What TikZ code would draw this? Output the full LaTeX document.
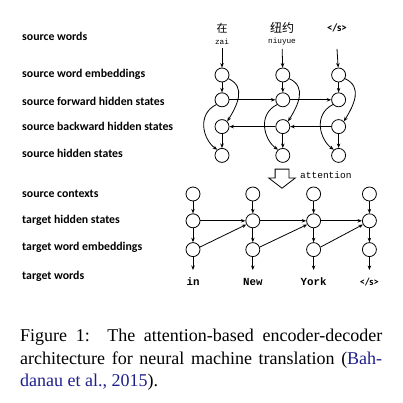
\documentclass[tikz,border=0pt]{standalone}
\usepackage{fontspec}
\setmainfont{Liberation Serif}
\newfontfamily\lblfont{Carlito}
\newfontfamily\wordfont{Liberation Mono}
\newfontfamily\cjkfont{Noto Sans CJK SC}
\usepackage{tikz}
\usetikzlibrary{arrows.meta, positioning, shapes.arrows}
\definecolor{citeblue}{RGB}{30,30,140}

\begin{document}
\begin{tikzpicture}[x=1pt, y=1pt,
    node distance=10pt and 46pt,
    unit/.style={circle, draw, line width=0.8pt, minimum size=14pt, inner sep=0pt},
    lbl/.style={anchor=west, inner sep=0pt, font=\lblfont\bfseries\fontsize{11.8}{13}\selectfont},
    tok/.style={inner sep=0pt, text height=8pt, text depth=0pt,
                font=\wordfont\bfseries\fontsize{10.8}{12}\selectfont},
    pin/.style={inner sep=1pt, font=\wordfont\fontsize{7.7}{9}\selectfont},
    captext/.style={anchor=base west, inner sep=0pt, font=\fontsize{18}{22}\selectfont},
    link/.style={line width=0.8pt},
    >={Stealth[length=4.5pt, width=3.5pt]}]

  \useasboundingbox (0,0) rectangle (402,-403);

  % row labels
  \node[lbl] (lsw)  at (22,-36)  {source words};
  \node[lbl] (lse)  at (22,-74)  {source word embeddings};
  \node[lbl] (lsf)  at (22,-101) {source forward hidden states};
  \node[lbl] (lsb)  at (22,-126) {source backward hidden states};
  \node[lbl] (lsh)  at (22,-153) {source hidden states};
  \node[lbl] (lsc)  at (22,-194) {source contexts};
  \node[lbl] (lth)  at (22,-220) {target hidden states};
  \node[lbl] (lte)  at (22,-247) {target word embeddings};
  \node[lbl] (ltw)  at (22,-276) {target words};

  % source words
  \node[font=\cjkfont\fontsize{11}{12}\selectfont, inner sep=0pt] (x1) at (222,-28) {在};
  \node[font=\cjkfont\fontsize{12}{13}\selectfont, inner sep=0pt] (x2) at (282,-28) {纽约};
  \node[font=\lblfont\bfseries\fontsize{11}{12}\selectfont, inner sep=0pt] (x3) at (337,-28) {</s>};
  \node[pin] (p1) at (222,-42) {zai};
  \node[pin] (p2) at (282,-42) {niuyue};
  \coordinate (p3) at (337,-49);

  % encoder
  \node[unit] (e1) at (222,-75) {};
  \node[unit, below=10pt of e1] (f1) {};
  \node[unit, below=12pt of f1] (b1) {};
  \node[unit, below=14pt of b1] (h1) {};
  \node[unit, right=46pt of e1] (e2) {};
  \node[unit, below=10pt of e2] (f2) {};
  \node[unit, below=12pt of f2] (b2) {};
  \node[unit, below=14pt of b2] (h2) {};
  \node[unit, right=41pt of e2] (e3) {};
  \node[unit, below=10pt of e3] (f3) {};
  \node[unit, below=12pt of f3] (b3) {};
  \node[unit, below=14pt of b3] (h3) {};

  \draw[link, ->, shorten <=2pt] (p1) -- (e1);
  \draw[link, ->, shorten <=2pt] (p2) -- (e2);
  \draw[link, ->] (p3) -- (e3);
  \draw[link, ->] (e1) -- (f1);
  \draw[link, ->] (e2) -- (f2);
  \draw[link, ->] (e3) -- (f3);
  \draw[link, ->] (b1) -- (h1);
  \draw[link, ->] (b2) -- (h2);
  \draw[link, ->] (b3) -- (h3);
  \draw[link, ->] (f1) -- (f2);
  \draw[link, ->] (f2) -- (f3);
  \draw[link, ->] (b3) -- (b2);
  \draw[link, ->] (b2) -- (b1);
  % embeddings feed the backward states, forward states feed the outputs
  \draw[link, ->] (e1.-30) .. controls +(18,-8) and +(10,16) .. (b1.45);
  \draw[link, ->] (e2.-30) .. controls +(18,-8) and +(10,16) .. (b2.45);
  \draw[link, ->] (e3.-30) .. controls +(18,-8) and +(10,16) .. (b3.45);
  \draw[link, ->] (f1.220) .. controls +(-20,-10) and +(-14,10) .. (h1.130);
  \draw[link, ->] (f2.220) .. controls +(-20,-10) and +(-14,10) .. (h2.130);
  \draw[link, ->] (f3.220) .. controls +(-20,-10) and +(-14,10) .. (h3.130);

  % attention
  \node[single arrow, draw, fill=white, line width=0.8pt, shape border rotate=270,
        minimum height=16pt, inner sep=6.5pt, single arrow head extend=6.5pt,
        single arrow tip angle=105] (att) at (282,-176) {};
  \node[anchor=west, inner sep=0pt, font=\wordfont\fontsize{9.5}{11}\selectfont] (attl)
    at (300,-175) {attention};

  % decoder
  \node[unit] (c1) at (193,-194) {};
  \node[unit, below=12pt of c1] (s1) {};
  \node[unit, below=14pt of s1] (m1) {};
  \node[tok, below=20pt of m1] (w1) {in};
  \node[unit, right=45pt of c1] (c2) {};
  \node[unit, below=12pt of c2] (s2) {};
  \node[unit, below=14pt of s2] (m2) {};
  \node[tok, below=20pt of m2] (w2) {New};
  \node[unit, right=46pt of c2] (c3) {};
  \node[unit, below=12pt of c3] (s3) {};
  \node[unit, below=14pt of s3] (m3) {};
  \node[tok, below=20pt of m3] (w3) {York};
  \node[unit, right=41pt of c3] (c4) {};
  \node[unit, below=12pt of c4] (s4) {};
  \node[unit, below=14pt of s4] (m4) {};
  \node[tok, below=20pt of m4, font=\lblfont\bfseries\fontsize{10.5}{11}\selectfont] (w4) {</s>};

  \draw[link, ->] (c1) -- (s1);
  \draw[link, ->] (c2) -- (s2);
  \draw[link, ->] (c3) -- (s3);
  \draw[link, ->] (c4) -- (s4);
  \draw[link, ->] (s1) -- (m1);
  \draw[link, ->] (s2) -- (m2);
  \draw[link, ->] (s3) -- (m3);
  \draw[link, ->] (s4) -- (m4);
  \draw[link, ->, shorten >=7pt] (m1) -- (w1);
  \draw[link, ->, shorten >=7pt] (m2) -- (w2);
  \draw[link, ->, shorten >=7pt] (m3) -- (w3);
  \draw[link, ->, shorten >=7pt] (m4) -- (w4);
  \draw[link, ->] (s1) -- (s2);
  \draw[link, ->] (s2) -- (s3);
  \draw[link, ->] (s3) -- (s4);
  \draw[link, ->] (m1.20) -- (s2.210);
  \draw[link, ->] (m2.20) -- (s3.210);
  \draw[link, ->] (m3.20) -- (s4.210);

  % caption
  \node[captext] (cap1) at (20,-341)
    {\makebox[362pt][s]{Figure 1:\ \ The attention-based encoder-decoder}};
  \node[captext] (cap2) at (20,-364)
    {\makebox[362pt][s]{architecture for neural machine translation (\textcolor{citeblue}{Bah-}}};
  \node[captext] (cap3) at (20,-386)
    {\textcolor{citeblue}{danau et al., 2015}).};
\end{tikzpicture}
\end{document}
